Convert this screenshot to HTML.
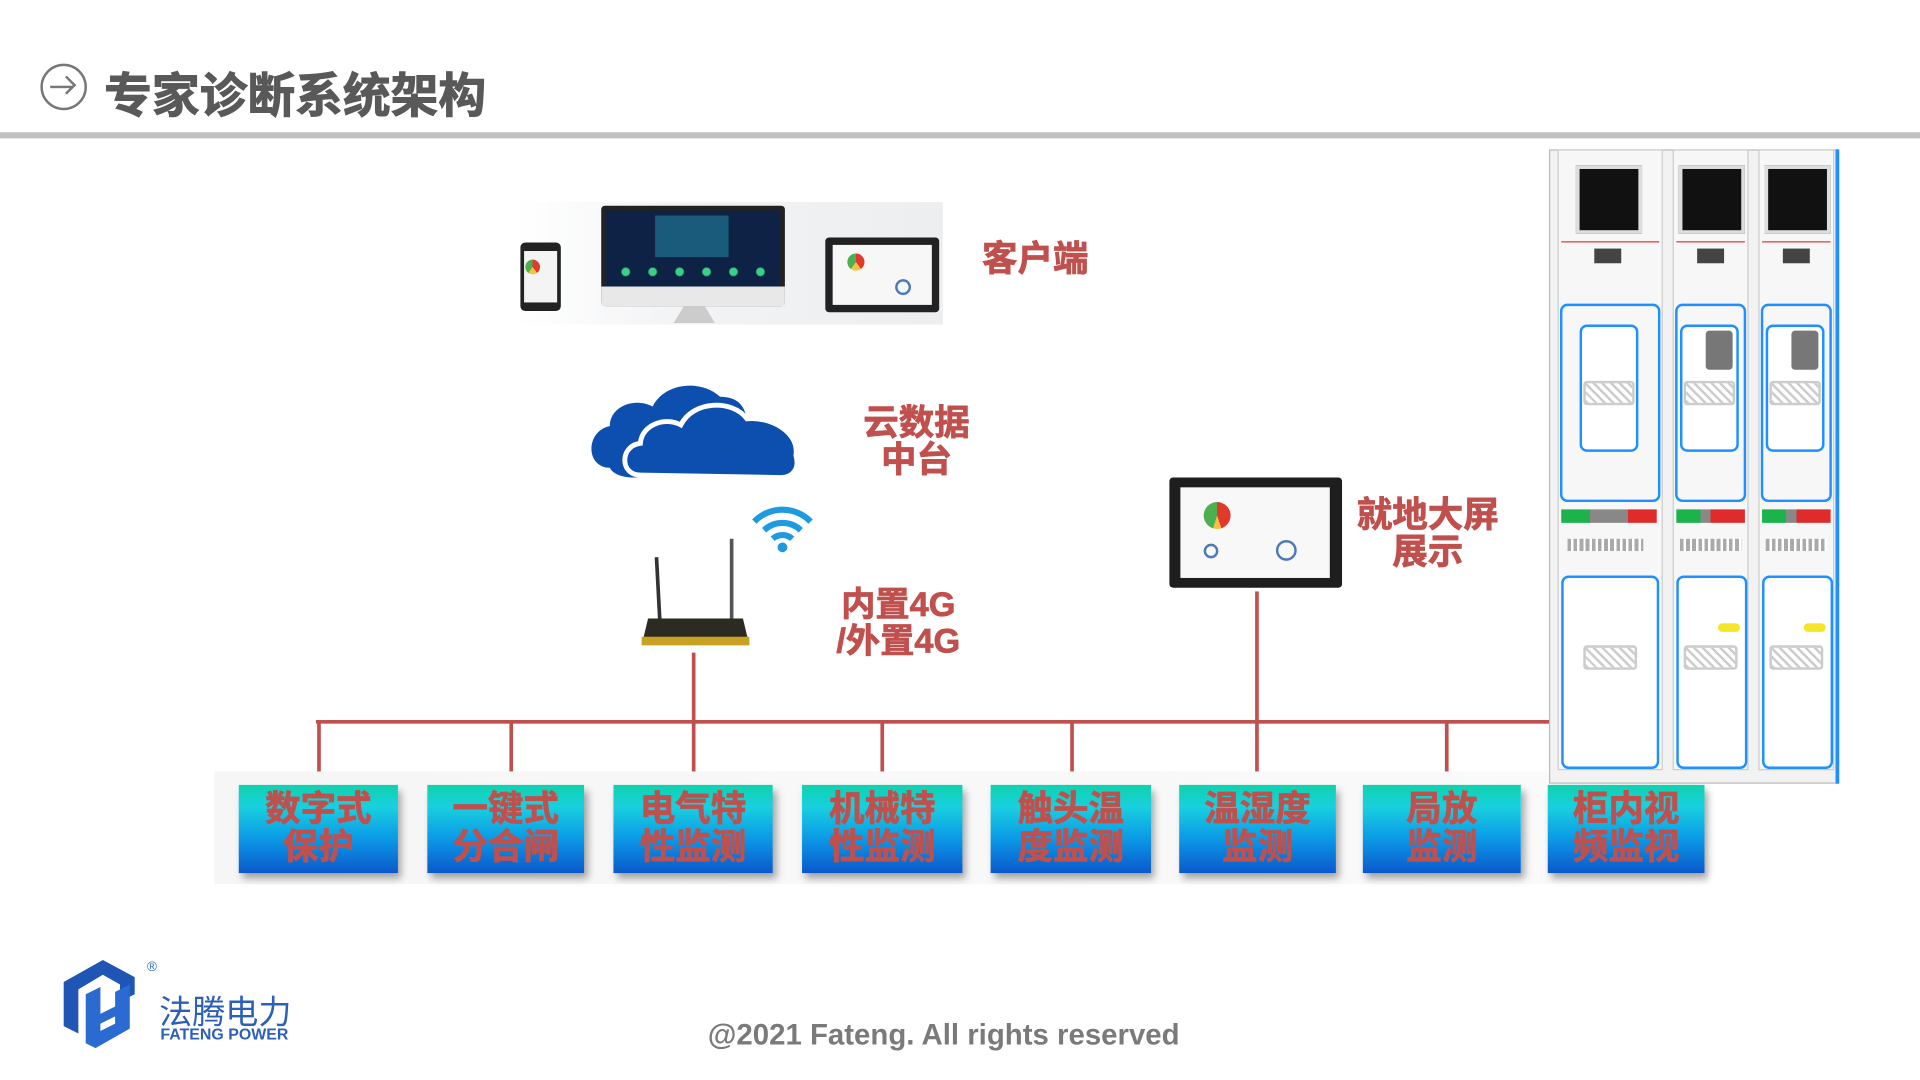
<!DOCTYPE html>
<html><head><meta charset="utf-8"><style>
html,body{margin:0;padding:0;background:#fff;width:1920px;height:1080px;overflow:hidden}
#s{position:absolute;left:0;top:0;width:1568px;height:882px;transform:scale(1.22449);transform-origin:0 0;font-family:"Liberation Sans","Noto Sans CJK SC",sans-serif}
.a{position:absolute}
.rt{position:absolute;color:#c0504d;font-weight:bold;font-size:29px;line-height:30px;text-align:center;-webkit-text-stroke:0.6px #c0504d}
.box{position:absolute;top:641px;height:72px;background:linear-gradient(#0fd2ae 0%,#19d0df 25%,#0b9be6 60%,#0a58cc 100%);box-shadow:3px 5px 6px rgba(0,0,0,.35);color:#c0504d;font-weight:bold;font-size:29px;line-height:31px;text-align:center;padding-top:5px;box-sizing:border-box;-webkit-text-stroke:0.6px #c0504d;white-space:nowrap}
.v{position:absolute;width:3px;background:#c0504d}
.cab{position:absolute;background:#f7f7f7;border:1px solid #ccc}
.door{position:absolute;border:2px solid #1e90ff;border-radius:6px;background:#fff}
.scr{position:absolute;background:#111;border:3px solid #ddd}
.mesh{position:absolute;background:repeating-linear-gradient(45deg,#ccc 0 2px,#fff 2px 5px),#eee;border:2px solid #ccc;border-radius:3px}
</style></head><body><div id="s">
<div class="a" style="left:33px;top:52px;width:34px;height:34px;border:2px solid #777;border-radius:50%"></div>
<div class="a" style="left:41px;top:70px;width:18px;height:2px;background:#777"></div>
<div class="a" style="left:49px;top:64px;width:9px;height:9px;border-top:2px solid #777;border-right:2px solid #777;transform:rotate(45deg)"></div>
<div class="a" style="left:85px;top:48px;font-size:39px;font-weight:bold;color:#595959;-webkit-text-stroke:0.8px #595959">专家诊断系统架构</div>
<div class="a" style="left:0;top:108px;width:1568px;height:5px;background:#c0c0c0"></div>

<div class="a" style="left:420px;top:165px;width:350px;height:100px;background:linear-gradient(90deg,#fff,#f2f3f5 40%,#eceef0)"></div>
<div class="a" style="left:425px;top:198px;width:33px;height:56px;background:#222;border-radius:4px"></div>
<div class="a" style="left:428px;top:205px;width:27px;height:42px;background:#f4f4f4"></div>
<div class="a" style="left:429px;top:212px;width:12px;height:12px;border-radius:50%;background:conic-gradient(#e03a2a 0 40%,#f6c143 40% 60%,#4caf50 60%)"></div>
<div class="a" style="left:491px;top:168px;width:150px;height:82px;background:#222;border-radius:3px"></div>
<div class="a" style="left:495px;top:172px;width:142px;height:62px;background:#0d2244"></div>
<div class="a" style="left:535px;top:176px;width:60px;height:34px;background:#1a5a7a"></div>
<div class="a" style="left:500px;top:218px;width:130px;height:8px;background:radial-gradient(circle,#3ccf86 3px,transparent 4px) 0 0/22px 8px"></div>
<div class="a" style="left:491px;top:234px;width:150px;height:16px;background:#e8e8e8"></div>
<div class="a" style="left:550px;top:250px;width:34px;height:14px;background:#ccc;clip-path:polygon(25% 0,75% 0,100% 100%,0 100%)"></div>
<div class="a" style="left:674px;top:194px;width:93px;height:61px;background:#222;border-radius:3px"></div>
<div class="a" style="left:680px;top:200px;width:81px;height:49px;background:#f7f7f7"></div>
<div class="a" style="left:692px;top:207px;width:14px;height:14px;border-radius:50%;background:conic-gradient(#e03a2a 0 40%,#f6c143 40% 60%,#4caf50 60%)"></div>
<div class="a" style="left:731px;top:228px;width:9px;height:9px;border-radius:50%;border:2px solid #4a7ab8"></div>
<div class="rt" style="left:802px;top:197px">客户端</div>

<svg class="a" style="left:478px;top:302px" width="180" height="92" viewBox="0 0 180 92">
<path d="M20 80 C0 80 0 50 20 46 C20 30 40 22 55 30 C65 10 95 8 110 22 C125 22 130 30 132 40 C150 40 160 55 150 70 C148 82 140 88 130 88 L40 88 C28 88 22 84 20 80Z" fill="#0d4fae"/>
<path d="M45 86 C28 86 28 62 45 60 C46 45 65 38 78 45 C88 25 120 24 132 40 C150 38 175 50 172 70 C175 80 170 88 160 88Z" fill="#0d4fae" stroke="#fff" stroke-width="4"/>
</svg>
<div class="rt" style="left:705px;top:331px">云数据<br>中台</div>

<svg class="a" style="left:612px;top:412px" width="54" height="40" viewBox="0 0 54 40">
<path d="M4 14 A32 32 0 0 1 50 14" stroke="#1e9be0" stroke-width="5" fill="none"/>
<path d="M12 21 A22 22 0 0 1 42 21" stroke="#1e9be0" stroke-width="5" fill="none"/>
<path d="M19 28 A12 12 0 0 1 35 28" stroke="#1e9be0" stroke-width="5" fill="none"/>
<circle cx="27" cy="35" r="4" fill="#1e9be0"/></svg>
<div class="a" style="left:536px;top:455px;width:3px;height:52px;background:#333;transform:rotate(-3deg)"></div>
<div class="a" style="left:596px;top:440px;width:3px;height:66px;background:#555"></div>
<div class="a" style="left:524px;top:505px;width:88px;height:22px;background:#2b2b22;clip-path:polygon(6% 0,94% 0,100% 100%,0 100%)"></div>
<div class="a" style="left:524px;top:520px;width:88px;height:7px;background:#c9a223"></div>
<div class="rt" style="left:683px;top:479px;font-size:28px">内置4G<br>/外置4G</div>

<div class="a" style="left:955px;top:390px;width:141px;height:90px;background:#1e1e1e;border-radius:3px"></div>
<div class="a" style="left:964px;top:398px;width:122px;height:74px;background:#f8f8f8"></div>
<div class="a" style="left:983px;top:410px;width:22px;height:22px;border-radius:50%;background:conic-gradient(#e03a2a 0 45%,#f6c143 45% 55%,#4caf50 55%)"></div>
<div class="a" style="left:1042px;top:441px;width:13px;height:13px;border-radius:50%;border:2px solid #4a7ab8"></div>
<div class="a" style="left:983px;top:444px;width:8px;height:8px;border-radius:50%;border:2px solid #4a7ab8"></div>
<div class="rt" style="left:1108px;top:406px">就地大屏<br>展示</div>

<div class="a" style="left:258px;top:588px;width:1008px;height:3px;background:#c0504d"></div>
<div class="v" style="left:565px;top:533px;height:58px"></div>
<div class="v" style="left:1025px;top:483px;height:108px"></div>
<div class="v" style="left:259px;top:588px;height:54px"></div>
<div class="v" style="left:416px;top:588px;height:54px"></div>
<div class="v" style="left:565px;top:588px;height:54px"></div>
<div class="v" style="left:719px;top:588px;height:54px"></div>
<div class="v" style="left:874px;top:588px;height:54px"></div>
<div class="v" style="left:1025px;top:588px;height:54px"></div>
<div class="v" style="left:1180px;top:588px;height:54px"></div>

<div class="a" style="left:175px;top:630px;width:1220px;height:92px;background:linear-gradient(90deg,#f6f6f6,#fafafa)"></div>
<div class="box" style="left:195px;width:130px">数字式<br>保护</div>
<div class="box" style="left:349px;width:128px">一键式<br>分合闸</div>
<div class="box" style="left:501px;width:130px">电气特<br>性监测</div>
<div class="box" style="left:655px;width:131px">机械特<br>性监测</div>
<div class="box" style="left:809px;width:131px">触头温<br>度监测</div>
<div class="box" style="left:963px;width:128px">温湿度<br>监测</div>
<div class="box" style="left:1113px;width:129px">局放<br>监测</div>
<div class="box" style="left:1264px;width:128px">柜内视<br>频监视</div>

<div class="a" style="left:1265px;top:122px;width:237px;height:518px;background:#f2f2f2;border:1px solid #bbb;box-sizing:border-box"></div>
<div class="a" style="left:1499px;top:122px;width:3px;height:518px;background:#1e90ff"></div>
<div class="cab" style="left:1272px;top:122px;width:84px;height:505px"></div>
<div class="cab" style="left:1366px;top:122px;width:60px;height:505px"></div>
<div class="cab" style="left:1436px;top:122px;width:60px;height:505px"></div>
<div class="scr" style="left:1287px;top:135px;width:48px;height:50px"></div>
<div class="scr" style="left:1371px;top:135px;width:48px;height:50px"></div>
<div class="scr" style="left:1441px;top:135px;width:48px;height:50px"></div>
<div class="a" style="left:1275px;top:197px;width:80px;height:1px;background:#e33"></div>
<div class="a" style="left:1369px;top:197px;width:56px;height:1px;background:#e33"></div>
<div class="a" style="left:1439px;top:197px;width:56px;height:1px;background:#e33"></div>
<div class="a" style="left:1302px;top:203px;width:22px;height:12px;background:#444"></div>
<div class="a" style="left:1386px;top:203px;width:22px;height:12px;background:#444"></div>
<div class="a" style="left:1456px;top:203px;width:22px;height:12px;background:#444"></div>
<div class="door" style="left:1290px;top:265px;width:44px;height:100px"></div>
<div class="door" style="left:1372px;top:265px;width:44px;height:100px"></div>
<div class="door" style="left:1442px;top:265px;width:44px;height:100px"></div>
<div class="a" style="left:1393px;top:270px;width:22px;height:32px;background:#777;border-radius:3px"></div>
<div class="a" style="left:1463px;top:270px;width:22px;height:32px;background:#777;border-radius:3px"></div>
<div class="mesh" style="left:1293px;top:311px;width:38px;height:16px"></div>
<div class="mesh" style="left:1375px;top:311px;width:38px;height:16px"></div>
<div class="mesh" style="left:1445px;top:311px;width:38px;height:16px"></div>
<div class="door" style="left:1274px;top:248px;width:78px;height:158px;background:transparent"></div>
<div class="door" style="left:1368px;top:248px;width:54px;height:158px;background:transparent"></div>
<div class="door" style="left:1438px;top:248px;width:54px;height:158px;background:transparent"></div>
<div class="a" style="left:1275px;top:416px;width:78px;height:11px;background:linear-gradient(90deg,#1bb34a 0 30%,#888 30% 70%,#e02b2b 70%)"></div>
<div class="a" style="left:1369px;top:416px;width:56px;height:11px;background:linear-gradient(90deg,#1bb34a 0 35%,#888 35% 50%,#e02b2b 50%)"></div>
<div class="a" style="left:1439px;top:416px;width:56px;height:11px;background:linear-gradient(90deg,#1bb34a 0 35%,#888 35% 50%,#e02b2b 50%)"></div>
<div class="a" style="left:1280px;top:440px;width:62px;height:10px;background:repeating-linear-gradient(90deg,#aaa 0 3px,#fff 3px 5px)"></div>
<div class="a" style="left:1372px;top:440px;width:50px;height:10px;background:repeating-linear-gradient(90deg,#aaa 0 3px,#fff 3px 5px)"></div>
<div class="a" style="left:1442px;top:440px;width:50px;height:10px;background:repeating-linear-gradient(90deg,#aaa 0 3px,#fff 3px 5px)"></div>
<div class="door" style="left:1275px;top:470px;width:76px;height:154px"></div>
<div class="door" style="left:1369px;top:470px;width:54px;height:154px"></div>
<div class="door" style="left:1439px;top:470px;width:54px;height:154px"></div>
<div class="mesh" style="left:1293px;top:527px;width:40px;height:16px"></div>
<div class="mesh" style="left:1375px;top:527px;width:40px;height:16px"></div>
<div class="mesh" style="left:1445px;top:527px;width:40px;height:16px"></div>
<div class="a" style="left:1403px;top:509px;width:18px;height:7px;background:#f5e62a;border-radius:4px"></div>
<div class="a" style="left:1473px;top:509px;width:18px;height:7px;background:#f5e62a;border-radius:4px"></div>

<svg class="a" style="left:48px;top:782px" width="72" height="76" viewBox="0 0 72 76">
<path d="M4 20 L36 2 L62 16 L62 30 L50 36 L50 22 L36 14 L16 26 L16 62 L4 56Z" fill="#1f56b6"/>
<path d="M22 30 L34 24 L34 46 L46 40 L46 28 L58 22 L58 58 L30 74 L22 70 L22 58 L34 52 L34 60 L46 54 L46 48 L22 60Z" fill="#2b6bd1"/>
</svg>
<div class="a" style="left:120px;top:784px;font-size:11px;color:#2b6bd1">®</div>
<div class="a" style="left:130px;top:805px;font-size:27px;color:#2b5fb8">法腾电力</div>
<div class="a" style="left:131px;top:837px;font-size:13px;font-weight:bold;color:#2b5fb8">FATENG POWER</div>
<div class="a" style="left:578px;top:832px;font-size:24px;font-weight:bold;color:#7a7a7a">@2021 Fateng. All rights reserved</div>
</div></body></html>
